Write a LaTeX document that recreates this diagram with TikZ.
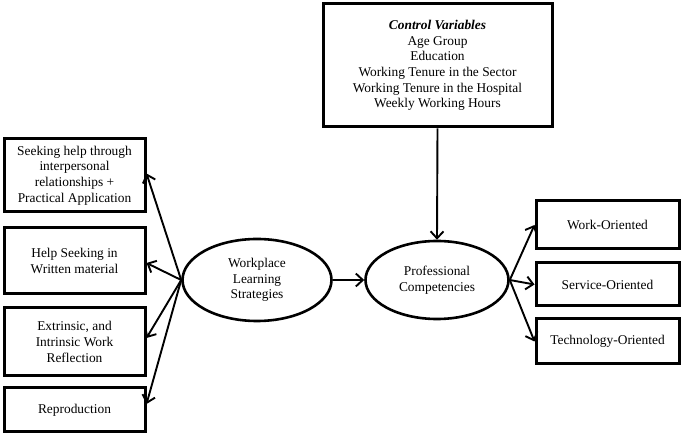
\documentclass[tikz,border=0pt]{standalone}
\usepackage{fontspec}
\setmainfont{Liberation Serif}
\usetikzlibrary{positioning, arrows.meta, shapes.geometric}

\begin{document}
\begin{tikzpicture}[x=1pt, y=-1pt, font=\fontsize{13.4}{15.6}\selectfont]
        \tikzset{
            % Define standard arrow tip
            >={Straight Barb[length=7pt, width=13pt]},
            % Define style for boxes
            kasse/.style={
                    rectangle,
                    draw=black, line width=3pt,
                    inner sep=0pt,
                    align=center},
            % Define style for the constructs
            oval/.style={
                    ellipse,
                    draw=black, line width=2.6pt,
                    inner sep=0pt,
                    align=center},
            % Define arrow style
            pil/.style={
                    ->,
                    line width=1.9pt},
        }
        \useasboundingbox (0,0) rectangle (683,435);
        % Draw the boxes on the left
        \node[kasse, minimum width=141, minimum height=73] (help) at (74.5,175.5)
            {Seeking help through\\interpersonal\\relationships +\\Practical Application};
        \node[kasse, minimum width=141, minimum height=66] (written) at (74.5,261)
            {Help Seeking in\\Written material};
        \node[kasse, minimum width=141, minimum height=68] (reflect) at (74.5,342)
            {Extrinsic, and\\Intrinsic Work\\Reflection};
        \node[kasse, minimum width=141, minimum height=44] (repro) at (74.5,410)
            {Reproduction};

        % Draw the constructs
        \node[oval, minimum width=149, minimum height=82] (wls) at (257,280)
            {Workplace\\Learning\\Strategies};
        \node[oval, minimum width=143, minimum height=78] (pc) at (437,280)
            {Professional\\Competencies};

        % Draw the control box
        \node[kasse, minimum width=229, minimum height=123] (ctrl) at (437.5,65.5)
            {\textbf{\textit{Control Variables}}\\Age Group\\Education\\Working Tenure in the Sector\\Working Tenure in the Hospital\\Weekly Working Hours};

        % Draw the boxes on the right
        \node[kasse, minimum width=143, minimum height=48] (work) at (607.5,225) {Work-Oriented};
        \node[kasse, minimum width=143, minimum height=43] (service) at (607.5,284.5) {Service-Oriented};
        \node[kasse, minimum width=143, minimum height=45] (tech) at (607.5,341.5) {Technology-Oriented};

        % Connect the nodes with arrows
        \draw[pil] (wls.west) -- ([yshift=2pt]help.east);
        \draw[pil] (wls.west) -- ([yshift=-2pt]written.east);
        \draw[pil] (wls.west) -- ([yshift=4pt]reflect.east);
        \draw[pil] (wls.west) -- ([yshift=6pt]repro.east);
        \draw[pil] (wls.east) -- (pc.west);
        \draw[pil] (ctrl.south) -- (pc.north);
        \draw[pil] (pc.east) -- (work.west);
        \draw[pil] (pc.east) -- (service.west);
        \draw[pil] (pc.east) -- (tech.west);

    \end{tikzpicture}
\end{document}
